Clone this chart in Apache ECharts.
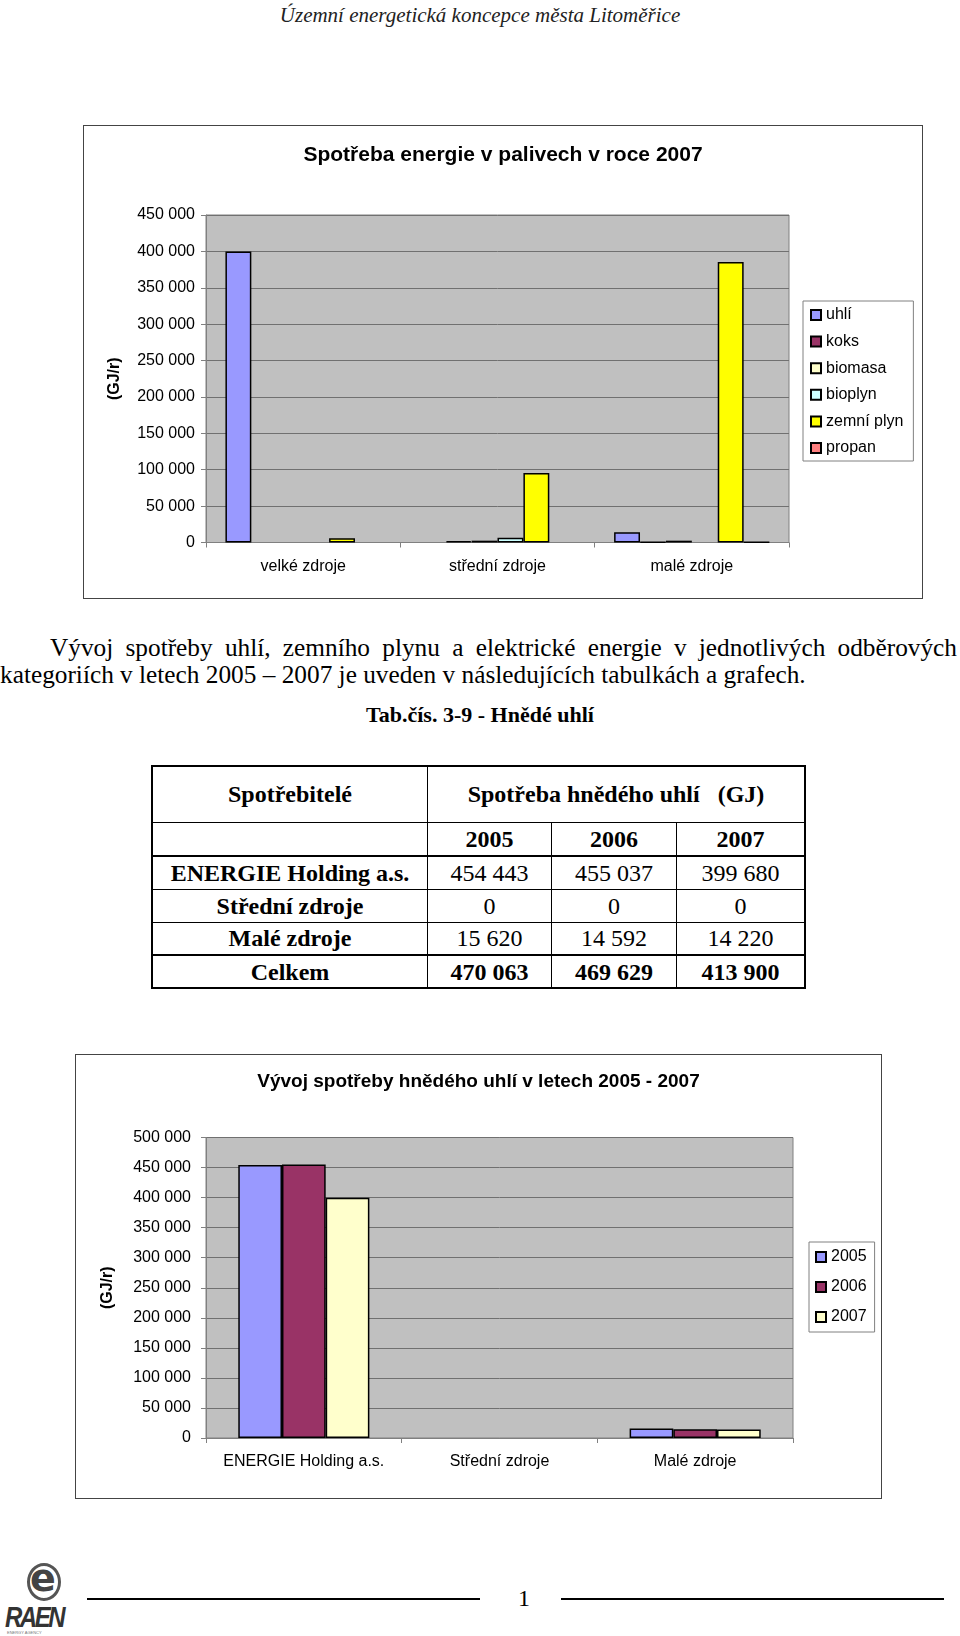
<!DOCTYPE html>
<html>
<head>
<meta charset="utf-8">
<script src="https://cdn.jsdelivr.net/npm/echarts@6/dist/echarts.min.js"></script>
<style>
  html, body { margin:0; padding:0; background:#fff; }
  body { width:960px; height:1636px; position:relative; overflow:hidden; font-family:"Liberation Serif", serif; color:#000; }
  .abs { position:absolute; }
  .frame { position:absolute; border:1px solid #444; box-sizing:border-box; background:#fff; }
  .chart { position:absolute; }
  #hdr { left:0; width:960px; top:2px; text-align:center; font-style:italic; font-size:21px; line-height:26px; color:#222; }
  .para { font-size:25.3px; line-height:27px; white-space:nowrap; }
  #p1 { left:50px; top:634px; width:907px; text-align:justify; text-align-last:justify; white-space:normal; }
  #p2 { left:0px; top:661px; }
  #cap { left:0; width:960px; top:701px; text-align:center; font-weight:bold; font-size:22px; line-height:28px; }
  table#tab { position:absolute; left:151px; top:765px; border-collapse:collapse; border:2.5px solid #000; font-size:24px; }
  #tab td { border:1px solid #000; text-align:center; padding:0; line-height:26px; }
  #tab td.b { font-weight:bold; }
  #tab tr.thick td { border-bottom:2px solid #000; }
  #foot1 { left:87px; width:393px; top:1598px; height:0; border-top:2px solid #000; }
  #foot2 { left:561px; width:383px; top:1598px; height:0; border-top:2px solid #000; }
  #pg { left:514px; width:20px; top:1584px; text-align:center; font-size:24px; line-height:28px; }
  #logoC { left:27px; top:1563px; width:34px; height:38px; border:3px solid #555; border-radius:50%; box-sizing:border-box; }
  #logoE { left:30px; top:1558px; font-family:"DejaVu Sans", sans-serif; font-weight:bold; font-size:38px; line-height:40px; color:#444; }
  #logoR { left:5px; top:1603px; font-family:"Liberation Sans", sans-serif; font-weight:bold; font-style:italic; font-size:24px; line-height:24px; color:#333; letter-spacing:-2.5px; transform:scaleY(1.2); transform-origin:top left; }
  #logoS { left:7px; top:1630px; font-family:"Liberation Sans", sans-serif; font-size:4px; line-height:5px; color:#777; }
</style>
</head>
<body>
<div id="hdr" class="abs">Územní energetická koncepce města Litoměřice</div>

<div class="frame" style="left:83px;top:125px;width:840px;height:474px;"></div>
<div id="c1" class="chart" style="left:83px;top:125px;width:840px;height:474px;"></div>

<div id="p1" class="abs para">Vývoj spotřeby uhlí, zemního plynu a elektrické energie v&nbsp;jednotlivých odběrových</div>
<div id="p2" class="abs para">kategoriích v letech 2005 – 2007 je uveden v následujících tabulkách a grafech.</div>
<div id="cap" class="abs">Tab.čís. 3-9 - Hnědé uhlí</div>

<table id="tab"></table>

<div class="frame" style="left:75px;top:1054px;width:807px;height:445px;"></div>
<div id="c2" class="chart" style="left:75px;top:1054px;width:807px;height:445px;"></div>

<div id="logoC" class="abs"></div>
<div id="logoE" class="abs">e</div>
<div id="logoR" class="abs">RAEN</div>
<div id="logoS" class="abs">ENERGY AGENCY</div>
<div id="foot1" class="abs"></div>
<div id="pg" class="abs">1</div>
<div id="foot2" class="abs"></div>

<script>
// ---------- Chart 1: Spotřeba energie v palivech v roce 2007 ----------
const fuelCategories = ['velké zdroje', 'střední zdroje', 'malé zdroje'];
const fuelNames = ['uhlí', 'koks', 'biomasa', 'bioplyn', 'zemní plyn', 'propan'];
const uhli      = [399680, 0, 14220];
const koks      = [0, 2000, 500];
const biomasa   = [0, 2500, 2500];
const bioplyn   = [0, 6500, 0];
const zemniPlyn = [6000, 95500, 385500];
const propan    = [0, 0, 500];
const fuelColors = ['#9999FF', '#993366', '#FFFFCC', '#CCFFFF', '#FFFF00', '#FF8080'];

// ---------- Table + Chart 2: hnědé uhlí 2005-2007 ----------
const years = ['2005', '2006', '2007'];
const consumers = ['ENERGIE Holding a.s.', 'Střední zdroje', 'Malé zdroje'];
const coalChartCategories = ['ENERGIE Holding a.s.', 'Střední zdroje', 'Malé zdroje'];
const coal2005 = [454443, 0, 15620];
const coal2006 = [455037, 0, 14592];
const coal2007 = [399680, 0, 14220];
const coalTotals = [470063, 469629, 413900];
const yearColors = ['#9999FF', '#993366', '#FFFFCC'];

const FONT = '"Liberation Sans", Arial, sans-serif';
function fmt(v) { return String(v).replace(/\B(?=(\d{3})+(?!\d))/g, ' '); }
function nz(arr) { return arr.map(v => v === 0 ? null : v); }

function baseAxes(cats, max, nameGap, yMargin) {
  return {
    xAxis: {
      type: 'category', data: cats,
      axisLine: { show: true, lineStyle: { color: '#808080', width: 1 } },
      axisTick: { show: true, length: 5, lineStyle: { color: '#808080' } },
      axisLabel: { fontFamily: FONT, fontSize: 16, color: '#000', margin: 16, interval: 0 },
      splitLine: { show: false }
    },
    yAxis: {
      type: 'value', min: 0, max: max, interval: 50000,
      name: '(GJ/r)', nameLocation: 'middle', nameGap: nameGap,
      nameTextStyle: { fontFamily: FONT, fontSize: 16, fontWeight: 'bold', color: '#000' },
      axisLine: { show: true, lineStyle: { color: '#808080', width: 1 } },
      axisTick: { show: true, length: 5, lineStyle: { color: '#808080' } },
      axisLabel: { fontFamily: FONT, fontSize: 16, color: '#000', margin: yMargin, formatter: fmt },
      splitLine: { show: true, lineStyle: { color: '#707070', width: 1 } }
    }
  };
}

// Chart 1
const c1 = echarts.init(document.getElementById('c1'), null, { renderer: 'canvas' });
const seriesData1 = [uhli, koks, biomasa, bioplyn, zemniPlyn, propan];
const ax1 = baseAxes(fuelCategories, 450000, 83, 11);
c1.setOption({
  animation: false,
  title: { text: 'Spotřeba energie v palivech v roce 2007', left: 'center', top: 15,
    textStyle: { fontFamily: FONT, fontSize: 21, fontWeight: 'bold', color: '#000' } },
  grid: { left: 123, top: 90, width: 583, height: 327.5, show: true,
    backgroundColor: '#C0C0C0', borderColor: '#808080', borderWidth: 1 },
  legend: {
    orient: 'vertical', left: 720, top: 176, icon: 'rect',
    itemWidth: 10, itemHeight: 10, itemGap: 10.6,
    padding: [6, 10, 5, 7], borderColor: '#808080', borderWidth: 1, backgroundColor: '#fff',
    textStyle: { fontFamily: FONT, fontSize: 16, lineHeight: 16, color: '#000' },
    data: fuelNames
  },
  xAxis: ax1.xAxis, yAxis: ax1.yAxis,
  series: fuelNames.map((n, i) => ({
    name: n, type: 'bar', barGap: '0%', barCategoryGap: '20%',
    itemStyle: { color: fuelColors[i], borderColor: '#000', borderWidth: 1.5 },
    data: nz(seriesData1[i])
  }))
});

// Table
(function () {
  const t = document.getElementById('tab');
  const widths = [274, 123, 124, 127];
  let h = '';
  h += '<tr style="height:56px"><td class="b" style="width:' + widths[0] + 'px">Spotřebitelé</td>' +
       '<td class="b" colspan="3">Spotřeba hnědého uhlí &nbsp;&nbsp;(GJ)</td></tr>';
  h += '<tr class="thick" style="height:34px"><td></td>' + years.map((y, i) =>
       '<td class="b" style="width:' + widths[i + 1] + 'px">' + y + '</td>').join('') + '</tr>';
  const rows = [coal2005, coal2006, coal2007];
  consumers.forEach((c, r) => {
    const cls = r === consumers.length - 1 ? ' class="thick"' : '';
    h += '<tr' + cls + ' style="height:33px"><td class="b">' + c + '</td>' +
         rows.map(a => '<td>' + fmt(a[r]) + '</td>').join('') + '</tr>';
  });
  h += '<tr style="height:33px"><td class="b">Celkem</td>' +
       coalTotals.map(v => '<td class="b">' + fmt(v) + '</td>').join('') + '</tr>';
  t.innerHTML = h;
})();

// Chart 2
const c2 = echarts.init(document.getElementById('c2'), null, { renderer: 'canvas' });
const seriesData2 = [coal2005, coal2006, coal2007];
const ax2 = baseAxes(coalChartCategories, 500000, 90, 15);
c2.setOption({
  animation: false,
  title: { text: 'Vývoj spotřeby hnědého uhlí v letech 2005 - 2007', left: 'center', top: 13,
    textStyle: { fontFamily: FONT, fontSize: 19, fontWeight: 'bold', color: '#000' } },
  grid: { left: 131, top: 83.5, width: 587, height: 300.5, show: true,
    backgroundColor: '#C0C0C0', borderColor: '#808080', borderWidth: 1 },
  legend: {
    orient: 'vertical', left: 734, top: 188, icon: 'rect',
    itemWidth: 10, itemHeight: 10, itemGap: 14,
    padding: [7, 8, 7, 6], borderColor: '#808080', borderWidth: 1, backgroundColor: '#fff',
    textStyle: { fontFamily: FONT, fontSize: 16, lineHeight: 16, color: '#000' },
    data: years
  },
  xAxis: ax2.xAxis, yAxis: ax2.yAxis,
  series: years.map((y, i) => ({
    name: y, type: 'bar', barGap: '0%', barCategoryGap: '33%',
    itemStyle: { color: yearColors[i], borderColor: '#000', borderWidth: 1.5 },
    data: nz(seriesData2[i])
  }))
});
</script>
</body>
</html>
